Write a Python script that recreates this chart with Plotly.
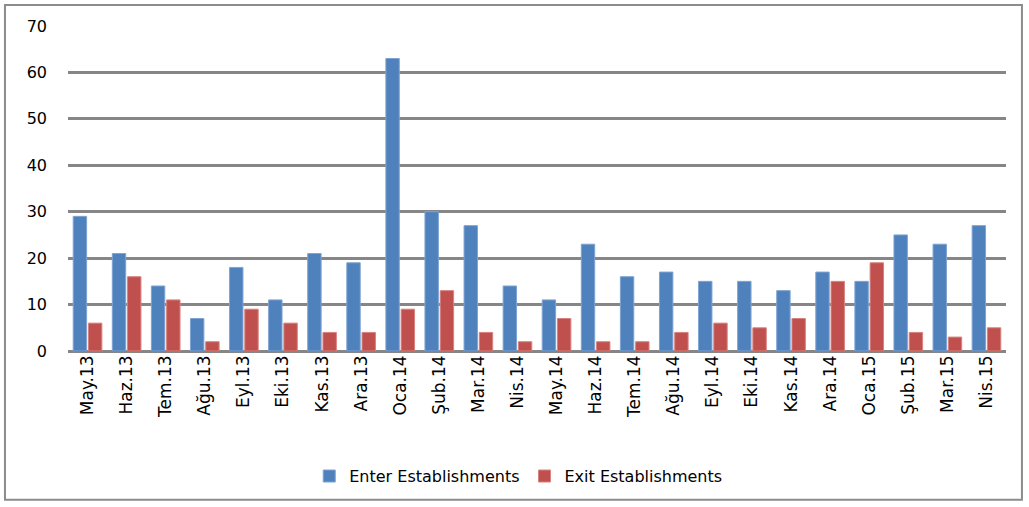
import plotly.graph_objects as go

months = ["May.13", "Haz.13", "Tem.13", "Ağu.13", "Eyl.13", "Eki.13", "Kas.13", "Ara.13",
          "Oca.14", "Şub.14", "Mar.14", "Nis.14", "May.14", "Haz.14", "Tem.14", "Ağu.14",
          "Eyl.14", "Eki.14", "Kas.14", "Ara.14", "Oca.15", "Şub.15", "Mar.15", "Nis.15"]
enter_vals = [29, 21, 14, 7, 18, 11, 21, 19, 63, 30, 27, 14, 11, 23, 16, 17, 15, 15, 13, 17, 15, 25, 23, 27]
exit_vals = [6, 16, 11, 2, 9, 6, 4, 4, 9, 13, 4, 2, 7, 2, 2, 4, 6, 5, 7, 15, 19, 4, 3, 5]
y_ticks = [0, 10, 20, 30, 40, 50, 60, 70]

FONT = "DejaVu Sans"

fig = go.Figure()
fig.add_trace(go.Bar(x=months, y=enter_vals, name="Enter Establishments",
                     marker=dict(color="#4F81BD", line=dict(color="#7FA3D3", width=1))))
fig.add_trace(go.Bar(x=months, y=exit_vals, name="Exit Establishments",
                     marker=dict(color="#C0504D", line=dict(color="#D88380", width=1))))

fig.update_layout(
    width=1029, height=507,
    margin=dict(l=68, r=23, t=26, b=156, autoexpand=False),
    paper_bgcolor="white", plot_bgcolor="white",
    barmode="group", bargap=0.22, bargroupgap=0.12,
    font=dict(family=FONT, size=14, color="#000000"),
    showlegend=True,
    legend=dict(orientation="h", x=0.48, xanchor="center", y=-0.385, yanchor="middle",
                font=dict(family=FONT, size=16), itemwidth=30, traceorder="normal"),
    xaxis=dict(tickangle=-90, showgrid=False, showline=False, ticks="",
               tickfont=dict(family=FONT, size=17), fixedrange=True, automargin=False),
    yaxis=dict(range=[0, 70], tickvals=y_ticks, showgrid=True, gridcolor="#868686", gridwidth=2.5,
               zeroline=True, zerolinecolor="#868686", zerolinewidth=2.5, showline=False,
               ticks="", ticklabelstandoff=20, automargin=False,
               tickfont=dict(family=FONT, size=16)),
    shapes=[dict(type="rect", xref="paper", yref="paper", x0=-0.0672, x1=1.017, y0=-0.458, y1=1.0646,
                 line=dict(color="#8C8C8C", width=2), fillcolor="rgba(0,0,0,0)", layer="below")],
)

fig.write_html("out.html", config={"displayModeBar": False},
               post_script="document.body.style.margin='0px';")
